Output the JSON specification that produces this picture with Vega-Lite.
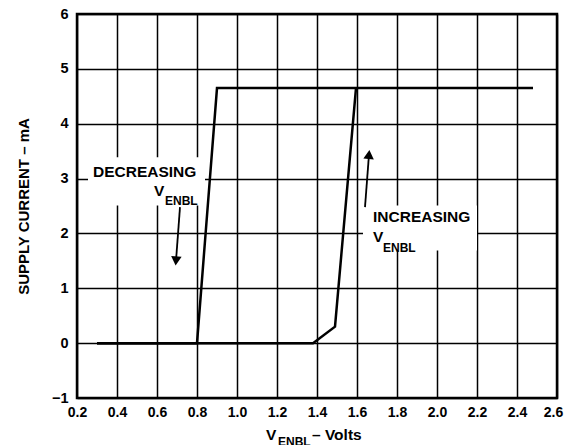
{
  "$schema": "https://vega.github.io/schema/vega-lite/v6.json",
  "width": 480,
  "height": 384,
  "autosize": "none",
  "padding": {"left": 77, "top": 14, "right": 8, "bottom": 47},
  "background": "white",
  "config": {
    "view": {"stroke": "black", "strokeWidth": 2.5},
    "font": "Liberation Sans",
    "axis": {"grid": true, "gridColor": "black", "gridWidth": 1.5, "gridOpacity": 1, "domain": false, "ticks": false, "labelFont": "Liberation Sans", "labelFontWeight": "bold", "labelFontSize": 14.5, "labelColor": "black", "labelOverlap": false, "labelFlush": false, "titleFont": "Liberation Sans", "titleFontWeight": "bold", "titleFontSize": 15, "titleColor": "black"}
  },
  "datasets": {
    "curves": [
      {"series": "decreasing", "i": 1, "v": 0.3, "ma": 0},
      {"series": "decreasing", "i": 2, "v": 0.8, "ma": 0},
      {"series": "decreasing", "i": 3, "v": 0.9, "ma": 4.65},
      {"series": "decreasing", "i": 4, "v": 2.48, "ma": 4.65},
      {"series": "increasing", "i": 1, "v": 0.3, "ma": 0},
      {"series": "increasing", "i": 2, "v": 1.38, "ma": 0},
      {"series": "increasing", "i": 3, "v": 1.49, "ma": 0.3},
      {"series": "increasing", "i": 4, "v": 1.595, "ma": 4.65}
    ],
    "boxes": [
      {"x": 0.255, "x2": 0.84, "y": 2.51, "y2": 3.39},
      {"x": 1.63, "x2": 2.2, "y": 1.69, "y2": 2.51}
    ],
    "arrows": [
      {"x": 0.715, "y": 2.48, "x2": 0.695, "y2": 1.5, "shape": "triangle-down"},
      {"x": 1.64, "y": 2.48, "x2": 1.66, "y2": 3.44, "shape": "triangle-up"}
    ],
    "mainText": [
      {"x": 0.28, "y": 3.02, "t": "DECREASING"},
      {"x": 0.585, "y": 2.69, "t": "V"},
      {"x": 1.68, "y": 2.2, "t": "INCREASING"},
      {"x": 1.68, "y": 1.84, "t": "V"},
      {"x": 1.145, "y": -1.767, "t": "V"},
      {"x": 1.375, "y": -1.767, "t": "– Volts"}
    ],
    "subText": [
      {"x": 0.64, "y": 2.51, "t": "ENBL"},
      {"x": 1.73, "y": 1.66, "t": "ENBL"},
      {"x": 1.205, "y": -1.88, "t": "ENBL"}
    ]
  },
  "layer": [
    {
      "data": {"name": "boxes"},
      "mark": {"type": "rect", "fill": "white", "stroke": null},
      "encoding": {
        "x": {"field": "x", "type": "quantitative", "scale": {"domain": [0.2, 2.6], "nice": false, "zero": false},
          "axis": {"values": [0.2, 0.4, 0.6, 0.8, 1.0, 1.2, 1.4, 1.6, 1.8, 2.0, 2.2, 2.4, 2.6], "tickCount": 13, "format": ".1f", "labelPadding": 7, "labelFontSize": 14, "labelOffset": {"condition": {"test": "datum.value >= 2.59", "value": -4}, "value": 0}, "title": null}},
        "x2": {"field": "x2"},
        "y": {"field": "y", "type": "quantitative", "scale": {"domain": [-1, 6], "nice": false, "zero": false},
          "axis": {"values": [-1, 0, 1, 2, 3, 4, 5, 6], "format": "d", "labelPadding": 9, "title": "SUPPLY CURRENT – mA", "titlePadding": 20}},
        "y2": {"field": "y2"}
      }
    },
    {
      "data": {"name": "curves"},
      "mark": {"type": "line", "color": "black", "strokeWidth": 2.5, "strokeJoin": "miter"},
      "encoding": {
        "x": {"field": "v", "type": "quantitative",
          "axis": {"values": [0.2, 0.4, 0.6, 0.8, 1.0, 1.2, 1.4, 1.6, 1.8, 2.0, 2.2, 2.4, 2.6], "tickCount": 13, "format": ".1f", "labelPadding": 7, "labelFontSize": 14, "labelOffset": {"condition": {"test": "datum.value >= 2.59", "value": -4}, "value": 0}, "title": null}},
        "y": {"field": "ma", "type": "quantitative"},
        "detail": {"field": "series"},
        "order": {"field": "i"}
      }
    },
    {
      "data": {"name": "arrows"},
      "mark": {"type": "rule", "color": "black", "strokeWidth": 1.8},
      "encoding": {
        "x": {"field": "x", "type": "quantitative"},
        "y": {"field": "y", "type": "quantitative"},
        "x2": {"field": "x2"},
        "y2": {"field": "y2"}
      }
    },
    {
      "data": {"name": "arrows"},
      "mark": {"type": "point", "filled": true, "color": "black", "size": 110, "angle": 5, "opacity": 1},
      "encoding": {
        "x": {"field": "x2", "type": "quantitative"},
        "y": {"field": "y2", "type": "quantitative"},
        "shape": {"field": "shape", "type": "nominal", "scale": null, "legend": null}
      }
    },
    {
      "data": {"name": "mainText"},
      "mark": {"type": "text", "align": "left", "baseline": "alphabetic", "font": "Liberation Sans", "fontWeight": "bold", "fontSize": 15.5, "color": "black", "clip": false},
      "encoding": {
        "x": {"field": "x", "type": "quantitative"},
        "y": {"field": "y", "type": "quantitative"},
        "text": {"field": "t"}
      }
    },
    {
      "data": {"name": "subText"},
      "mark": {"type": "text", "align": "left", "baseline": "alphabetic", "font": "Liberation Sans", "fontWeight": "bold", "fontSize": 12, "color": "black", "clip": false},
      "encoding": {
        "x": {"field": "x", "type": "quantitative"},
        "y": {"field": "y", "type": "quantitative"},
        "text": {"field": "t"}
      }
    }
  ]
}
